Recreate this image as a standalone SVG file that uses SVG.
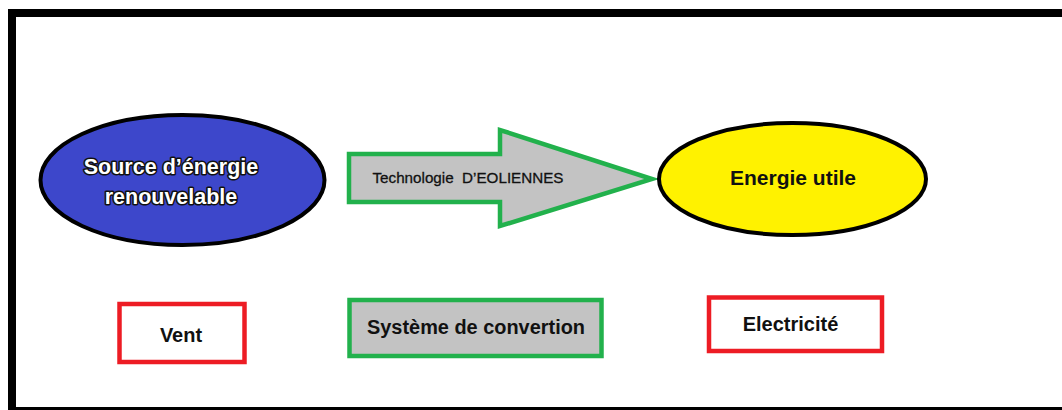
<svg xmlns="http://www.w3.org/2000/svg" width="1062" height="410" viewBox="0 0 1062 410">
  <style>
    .frame { fill: none; stroke: #000; stroke-width: 8; }
    .oval { stroke: #000; stroke-width: 4; }
    .green { stroke: #22b14c; stroke-width: 4.5; fill: #c3c3c3; }
    .red { stroke: #ed1c24; stroke-width: 4.5; fill: #fff; }
    .bold { font-family: "Liberation Sans", Arial, sans-serif; font-weight: bold; text-anchor: middle; }
    .plain { font-family: "Liberation Sans", Arial, sans-serif; text-anchor: middle; fill: #111; white-space: pre; }
    .outlined { fill: #fff; stroke: #111; stroke-width: 3; paint-order: stroke; stroke-linejoin: round; }
  </style>

  <rect width="1062" height="410" fill="#fff"/>
  <!-- outer frame (right and bottom edges run off the canvas) -->
  <rect class="frame" x="12" y="13" width="1060" height="398"/>

  <g id="source">
    <ellipse class="oval" cx="182.5" cy="180" rx="142" ry="65" fill="#3d47cb"/>
    <text class="bold outlined" x="171" y="174" font-size="21.5">Source d’énergie</text>
    <text class="bold outlined" x="171" y="204" font-size="21.5">renouvelable</text>
  </g>

  <g id="connectors">
    <g id="technologie">
      <polygon class="green" points="349,154 500,154 500,130 652,179 500,226 500,202 349,202"/>
      <text class="plain" x="468" y="183" font-size="15.5" stroke="#111" stroke-width="0.3" textLength="191" lengthAdjust="spacingAndGlyphs">Technologie  D’EOLIENNES</text>
    </g>
  </g>

  <g id="energie-utile">
    <ellipse class="oval" cx="792.5" cy="179" rx="133.5" ry="56" fill="#fff200"/>
    <text class="bold" x="793" y="185" font-size="21" fill="#111">Energie utile</text>
  </g>

  <g id="vent">
    <rect class="red" x="119.5" y="304" width="125" height="58"/>
    <text class="bold" x="181" y="342" font-size="20" fill="#111">Vent</text>
  </g>

  <g id="systeme">
    <rect class="green" x="349.5" y="300" width="252" height="56"/>
    <text class="plain" x="476" y="334" font-size="20" font-weight="bold" textLength="218" lengthAdjust="spacingAndGlyphs">Système de convertion</text>
  </g>

  <g id="electricite">
    <rect class="red" x="709" y="297.5" width="173" height="53.5"/>
    <text class="bold" x="790.5" y="331" font-size="20" fill="#111">Electricité</text>
  </g>
</svg>
